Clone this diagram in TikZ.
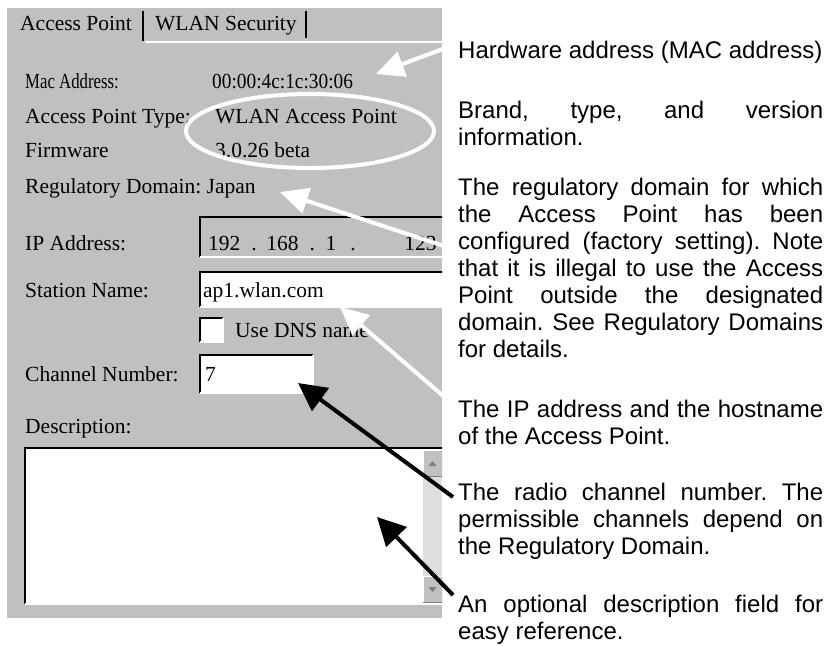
\documentclass[tikz,border=0pt]{standalone}
\usepackage{fontspec}
\usepackage{graphicx}
\setmainfont{Liberation Sans}
\newfontfamily\dlgfont{Liberation Serif}
\usetikzlibrary{arrows.meta}
\definecolor{dlggray}{RGB}{192,192,192}
\definecolor{trackgray}{RGB}{222,222,222}
\definecolor{shadegray}{RGB}{128,128,128}
\newlength\rtw \setlength\rtw{365pt}
\newcommand\jline[1]{\hbox to \rtw{#1}}
\newcommand\lline[1]{\hbox{#1}}
\frenchspacing
\begin{document}
\begin{tikzpicture}[x=1pt,y=-1pt,
  dlg/.style={anchor=base west, inner sep=0pt, text=black, font=\dlgfont\fontsize{21.5}{24}\selectfont},
  rtext/.style={anchor=base west, inner sep=0pt, text=black, font=\fontsize{24}{27}\selectfont},
  field/.style={anchor=north west, inner sep=0pt, fill=white},
  darkedge/.style={draw=black, line width=2.5pt},
  lightedge/.style={draw=white, line width=2pt},
  btnlight/.style={draw=white, line width=1pt},
  btndark/.style={draw=shadegray, line width=1pt},
  tabedge/.style={draw=black, line width=1.5pt},
  wharrow/.style={draw=white, line width=4pt, -{Triangle[length=28pt,width=26pt]}},
  bkarrow/.style={draw=black, line width=4pt, -{Triangle[length=28pt,width=28pt]}},
  markring/.style={draw=white, line width=4pt}
]
\useasboundingbox (0,0) rectangle (829,645);
\fill[white] (0,0) rectangle (829,645);
\fill[dlggray] (7,8) rectangle (442,618);

% tabs
\draw[tabedge] (143,11) -- (143,41);
\draw[tabedge] (306,11) -- (306,38);
\draw[lightedge] (145,42) -- (442,42);
\node[dlg] (tab1) at (20,30) {Access Point};
\node[dlg] (tab2) at (155,30) {WLAN Security};

% fields
\begin{scope}
\clip (7,8) rectangle (442,618);
\node[field, fill=dlggray, minimum width=260pt, minimum height=40pt] (ipbox) at (200,217) {};
\node[field, minimum width=260pt, minimum height=35pt] (stabox) at (200,272) {};
\node[field, minimum width=23pt, minimum height=24pt] (chkbox) at (200,318) {};
\node[field, minimum width=113pt, minimum height=38pt] (chbox) at (200,355) {};
\node[field, minimum width=430pt, minimum height=156pt] (dsbox) at (25,448) {};
\foreach \b in {ipbox,stabox,chkbox,chbox,dsbox} {
  \draw[darkedge] (\b.south west) -- (\b.north west) -- (\b.north east);
  \draw[lightedge] (\b.south west) -- (\b.south east) -- (\b.north east);
}
\node[field, fill=trackgray, minimum width=19pt, minimum height=152pt] (track) at (423,450) {};
\node[field, fill=dlggray, minimum width=19pt, minimum height=26pt] (upbtn) at (423,450) {};
\node[field, fill=dlggray, minimum width=19pt, minimum height=26pt] (dnbtn) at (423,576) {};
\foreach \b in {upbtn,dnbtn} {
  \draw[btnlight] (\b.south west) -- (\b.north west) -- (\b.north east);
  \draw[btndark] (\b.south west) -- (\b.south east) -- (\b.north east);
}
\fill[shadegray] (428.5,466) -- (436.5,466) -- (432.5,461) -- cycle;
\fill[shadegray] (428.5,587) -- (436.5,587) -- (432.5,592) -- cycle;
\node[dlg] (ipval) at (208,250) {192\hspace{11pt}.\hspace{9.6pt}168\hspace{11pt}.\hspace{10.6pt}1\hspace{14pt}.\hspace{48.6pt}123};
\end{scope}

% labels and values
\node[dlg] (maclbl) at (25,88) {\scalebox{0.78}[1]{Mac Address:}};
\node[dlg] (macval) at (212,88) {\scalebox{0.9}[1]{00:00:4c:1c:30:06}};
\node[dlg] (typelbl) at (25,123) {Access Point Type:};
\node[dlg] (typeval) at (215,123) {WLAN Access Point};
\node[dlg] (fwlbl) at (25,157) {Firmware};
\node[dlg] (fwval) at (215,157) {3.0.26 beta};
\node[dlg] (reglbl) at (25,193) {Regulatory Domain: Japan};
\node[dlg] (iplbl) at (25,250) {IP Address:};
\node[dlg] (stalbl) at (25,297) {Station Name:};
\node[dlg] (staval) at (203,297) {ap1.wlan.com};
\node[dlg] (dnslbl) at (235,337) {Use DNS name};
\node[dlg] (chlbl) at (25,381) {Channel Number:};
\node[dlg] (chval) at (205,381) {7};
\node[dlg] (dslbl) at (25,433) {Description:};

% right-hand explanations
\node[rtext] (hw) at (458,58) {\vtop{\lline{Hardware address (MAC address)}}};
\node[rtext] (brand) at (458,118) {\vtop{\jline{Brand, type, and version}\lline{information.}}};
\node[rtext] (reg) at (458,195) {\vtop{\jline{The regulatory domain for which}\jline{the Access Point has been}\jline{configured (factory setting). Note}\jline{that it is illegal to use the Access}\jline{Point outside the designated}\jline{domain. See Regulatory Domains}\lline{for details.}}};
\node[rtext] (ip) at (458,417) {\vtop{\jline{The IP address and the hostname}\lline{of the Access Point.}}};
\node[rtext] (radio) at (458,500) {\vtop{\jline{The radio channel number. The}\jline{permissible channels depend on}\lline{the Regulatory Domain.}}};
\node[rtext] (opt) at (458,612) {\vtop{\jline{An optional description field for}\lline{easy reference.}}};

% annotations
\draw[markring] (310,131) ellipse [x radius=124pt, y radius=37pt];
\coordinate (macTail) at (456,44);
\coordinate (macTip) at (376,74);
\coordinate (regTail) at (456,250);
\coordinate (regTip) at (280,192);
\coordinate (staTail) at (456,407);
\coordinate (staTip) at (340,307);
\coordinate (chTail) at (453,497);
\coordinate (chTip) at (298,383);
\coordinate (dsTail) at (453,595);
\coordinate (dsTip) at (377,517);
\draw[wharrow] (macTail) -- (macTip);
\draw[wharrow] (regTail) -- (regTip);
\draw[wharrow] (staTail) -- (staTip);
\draw[bkarrow] (chTail) -- (chTip);
\draw[bkarrow] (dsTail) -- (dsTip);
\end{tikzpicture}
\end{document}
